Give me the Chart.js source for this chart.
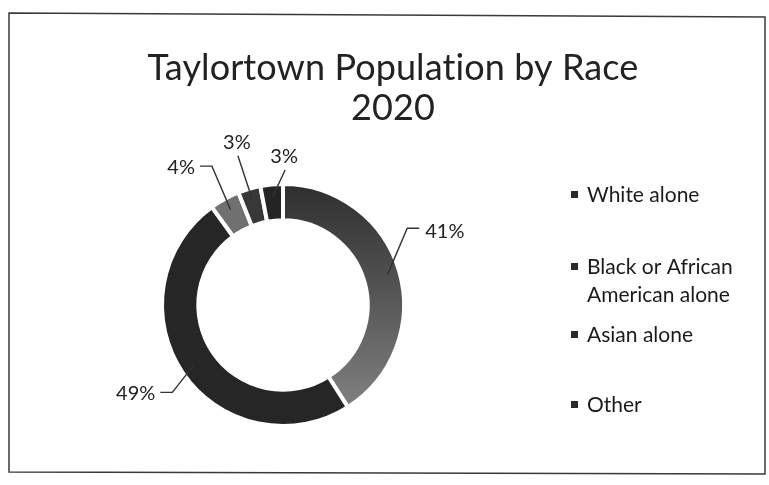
<!DOCTYPE html>
<html>
<head>
<meta charset="utf-8">
<script src="https://cdn.jsdelivr.net/npm/chart.js@4/dist/chart.umd.min.js"></script>
<style>
  html, body { margin: 0; padding: 0; background: #fff; }
  #wrap { width: 769px; height: 485px; }
</style>
</head>
<body>
<div id="wrap"><canvas id="chart" width="769" height="485"></canvas></div>
<script>
const titleLines = ['Taylortown Population by Race', '2020'];
const races = ['White alone', 'Black or African American alone', 'Asian alone', 'Other', 'Two or More Races'];
const shares = [41, 49, 4, 3, 3];
const sliceColors = ['#3c3c3c', '#262626', '#707070', '#383838', '#242424'];

const FONT = 'Lato, "Open Sans", sans-serif';

// first slice fades from dark at the top to a lighter grey at the bottom
function sliceFill(ctx) {
    const chart = ctx.chart;
    const area = chart.chartArea;
    if (ctx.dataIndex !== 0 || !area) return sliceColors[ctx.dataIndex];
    const g = chart.ctx.createLinearGradient(0, area.top, 0, area.bottom);
    g.addColorStop(0, '#2e2e2e');
    g.addColorStop(0.45, '#555555');
    g.addColorStop(1, '#888888');
    return g;
}

const framePlugin = {
    id: 'frame',
    beforeDraw(chart) {
        const c = chart.ctx;
        c.save();
        c.fillStyle = '#fff';
        c.fillRect(0, 0, chart.width, chart.height);
        c.strokeStyle = '#3a3a3a';
        c.lineWidth = 1.5;
        c.beginPath();
        c.moveTo(9, 13);
        c.lineTo(765, 17);
        c.lineTo(765, 474);
        c.lineTo(9, 472);
        c.closePath();
        c.stroke();
        c.restore();
    }
};

const titlePlugin = {
    id: 'bigTitle',
    afterDraw(chart, args, opts) {
        const c = chart.ctx;
        c.save();
        c.font = `${opts.size}px ${FONT}`;
        c.letterSpacing = '0.1px'; // keeps Lato from joining "ti"
        c.fillStyle = opts.color;
        c.textAlign = 'center';
        c.textBaseline = 'middle';
        titleLines.forEach((line, i) => {
            c.fillText(line, opts.x, opts.y + i * opts.lineHeight);
        });
        c.restore();
    }
};

// percentage labels with leader lines, placed like the spreadsheet does
const sliceLabelPlugin = {
    id: 'sliceLabels',
    afterDatasetsDraw(chart, args, opts) {
        const meta = chart.getDatasetMeta(0);
        const c = chart.ctx;
        c.save();
        c.font = `${opts.size}px ${FONT}`;
        c.fillStyle = opts.color;
        c.strokeStyle = opts.lineColor;
        c.lineWidth = 1.4;
        meta.data.forEach((arc, i) => {
            const p = opts.placements[i];
            if (!p) return;
            const mid = (arc.startAngle + arc.endAngle) / 2;
            const rStart = (arc.innerRadius + arc.outerRadius) / 2 + 6;
            const sx = arc.x + Math.cos(mid) * rStart;
            const sy = arc.y + Math.sin(mid) * rStart;
            const a = (p.angle - 90) * Math.PI / 180;
            const ex = arc.x + Math.cos(a) * p.dist;
            const ey = arc.y + Math.sin(a) * p.dist;
            const text = shares[i] + '%';
            c.beginPath();
            c.moveTo(sx, sy);
            c.lineTo(ex, ey);
            if (p.side === 'right') {
                c.lineTo(ex + 12, ey);
                c.stroke();
                c.textAlign = 'left';
                c.textBaseline = 'middle';
                c.fillText(text, ex + 18, ey + 3);
            } else if (p.side === 'left') {
                c.lineTo(ex - 12, ey);
                c.stroke();
                c.textAlign = 'right';
                c.textBaseline = 'middle';
                c.fillText(text, ex - 17, ey + 1);
            } else {
                c.stroke();
                c.textAlign = 'center';
                c.textBaseline = 'bottom';
                c.fillText(text, ex - 1, ey - 3);
            }
        });
        c.restore();
    }
};

// legend on the right, long names wrap onto a second line
const sideLegendPlugin = {
    id: 'sideLegend',
    afterDraw(chart, args, opts) {
        const c = chart.ctx;
        c.save();
        c.font = `${opts.size}px ${FONT}`;
        c.fillStyle = opts.color;
        c.textAlign = 'left';
        c.textBaseline = 'middle';
        chart.data.labels.slice(0, opts.maxItems).forEach((label, i) => {
            const y = opts.rows[i];
            const words = label.split(' ');
            const lines = [];
            let cur = '';
            words.forEach(w => {
                const test = cur ? cur + ' ' + w : w;
                if (c.measureText(test).width > opts.wrapWidth && cur) {
                    lines.push(cur);
                    cur = w;
                } else {
                    cur = test;
                }
            });
            lines.push(cur);
            c.fillStyle = opts.markerColor;
            c.fillRect(opts.x, y - 4, 7, 7);
            c.fillStyle = opts.color;
            lines.forEach((ln, k) => c.fillText(ln, opts.x + 16, y + k * opts.lineHeight));
        });
        c.restore();
    }
};

new Chart(document.getElementById('chart'), {
    type: 'doughnut',
    data: {
        labels: races,
        datasets: [{
            data: shares,
            backgroundColor: sliceFill,
            borderColor: '#ffffff',
            borderWidth: 4
        }]
    },
    plugins: [framePlugin, titlePlugin, sliceLabelPlugin, sideLegendPlugin],
    options: {
        responsive: false,
        animation: false,
        cutout: '70%',
        layout: {
            padding: { top: 182, bottom: 57, left: 100, right: 303 }
        },
        plugins: {
            legend: { display: false },
            title: { display: false },
            tooltip: { enabled: false },
            bigTitle: { x: 393, y: 68, lineHeight: 40, size: 36, color: '#222' },
            sliceLabels: {
                size: 20,
                color: '#222',
                lineColor: '#333',
                placements: [
                    { angle: 58.3, dist: 146, side: 'right' },
                    { angle: 231.7, dist: 141, side: 'left' },
                    { angle: 332.9, dist: 156, side: 'left' },
                    { angle: 343.2, dist: 156, side: 'top' },
                    { angle: 0.9, dist: 135, side: 'top' }
                ]
            },
            sideLegend: {
                x: 571,
                rows: [195, 267, 335, 405],
                maxItems: 4,
                lineHeight: 28,
                wrapWidth: 160,
                size: 21,
                color: '#1a1a1a',
                markerColor: '#2a2a2a'
            }
        }
    }
});
</script>
</body>
</html>
